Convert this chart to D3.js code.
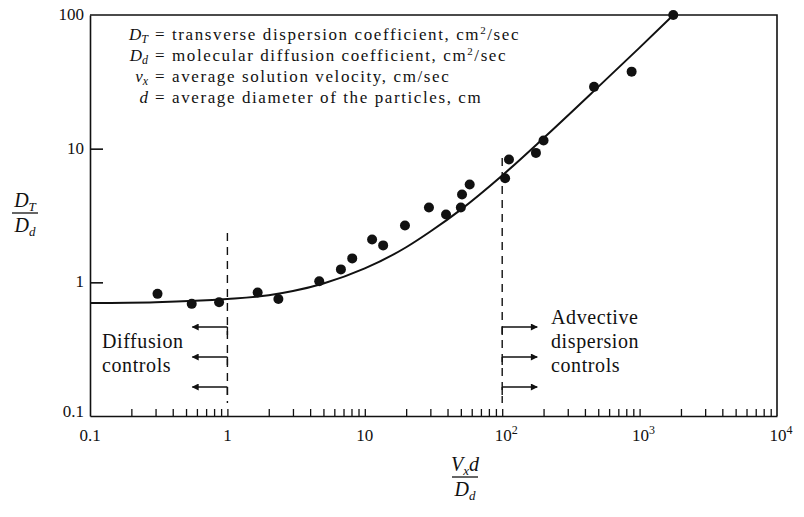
<!DOCTYPE html>
<html>
<head>
<meta charset="utf-8">
<script src="https://cdn.jsdelivr.net/npm/d3@7"></script>
<style>
  body { margin: 0; background: #fff; }
  svg, svg text { font-family: "Liberation Serif", "Times New Roman", Times, serif; }
  svg { display: block; }
</style>
</head>
<body>
<svg id="chart" width="804" height="517"></svg>
<script>
// Measured points: Peclet number (Vx d / Dd) against DT / Dd.
const pecletValues = [0.31, 0.55, 0.87, 1.66, 2.35, 4.66, 6.7, 8.1, 11.3, 13.6, 19.6, 29.3,
    39, 50, 51, 58, 105, 112, 176, 200, 466, 875, 1758];
const ratioValues = [0.82, 0.69, 0.71, 0.84, 0.75, 1.02, 1.25, 1.51, 2.09, 1.89, 2.66, 3.63,
    3.22, 3.63, 4.54, 5.4, 6.0, 8.3, 9.3, 11.5, 29, 37.7, 100];

// Fitted curve.
const curveX = [0.1, 0.3, 1, 2, 3, 5, 10, 20, 30, 50, 100, 200, 500, 1000, 1760];
const curveY = [0.70, 0.71, 0.75, 0.80, 0.86, 0.98, 1.27, 1.83, 2.4, 3.5, 6.3, 12, 29, 57, 100];

// Axis ticks.
const xMajorTicks = [0.1, 1, 10, 100, 1000, 10000];
const xTickExponents = ["0.1", "1", "10", "2", "3", "4"];
const yMajorTicks = [0.1, 1, 10, 100];
const yTickLabels = ["0.1", "1", "10", "100"];

// Regime boundaries and legend lines.
const boundaries = [1, 100];
const legendSymbols = ["D", "D", "v", "d"];
const legendSubs = ["T", "d", "x", ""];
const legendTexts = ["transverse dispersion coefficient, cm", "molecular diffusion coefficient, cm",
    "average solution velocity, cm/sec", "average diameter of the particles, cm"];
const legendSups = ["2", "2", "", ""];
const legendTails = ["/sec", "/sec", "", ""];

let svg = d3.select("#chart");
const plotLeft = 90, plotRight = 777, plotTop = 15, plotBottom = 416;

let x = d3.scaleLog().domain([0.1, 1e4]).range([plotLeft, plotRight]);
let y = d3.scaleLog().domain([0.1, 100]).range([plotBottom, plotTop]);

svg.append("defs").append("marker")
    .attr("id", "head")
    .attr("viewBox", "0 0 10 10")
    .attr("refX", 9).attr("refY", 5)
    .attr("markerWidth", 11).attr("markerHeight", 7)
    .attr("markerUnits", "userSpaceOnUse")
    .attr("orient", "auto")
    .append("path").attr("d", "M0,0L10,5L0,10Z").attr("fill", "#111");

// Minor ticks on x axis (every 1..9 of each decade).
let minorTicks = [];
for (let e = -1; e < 4; e++) {
    for (let m = 2; m <= 10; m++) minorTicks.push(m * Math.pow(10, e));
}
minorTicks = minorTicks.filter(v => v < 1e4);

let xAxis = svg.append("g")
    .attr("transform", `translate(0,${plotBottom})`)
    .call(d3.axisBottom(x).tickValues(minorTicks).tickSize(-7).tickSizeOuter(0).tickFormat(""));
xAxis.select(".domain").attr("stroke", "#111").attr("stroke-width", 1.6);
xAxis.selectAll(".tick line").attr("stroke", "#111").attr("stroke-width", 1.3);

let yAxis = svg.append("g")
    .attr("transform", `translate(${plotLeft},0)`)
    .call(d3.axisLeft(y).tickValues([1, 10]).tickSize(-13).tickSizeOuter(0).tickFormat(""));
yAxis.select(".domain").attr("stroke", "#111").attr("stroke-width", 1.6);
yAxis.selectAll(".tick line").attr("stroke", "#111").attr("stroke-width", 1.6);

// Top and right frame.
svg.append("path")
    .attr("d", `M${plotLeft},${plotTop}H${plotRight}V${plotBottom}`)
    .attr("fill", "none").attr("stroke", "#111").attr("stroke-width", 1.6);

// Tick labels.
let xl = svg.append("g").attr("font-size", 17).attr("fill", "#111").attr("text-anchor", "middle");
xMajorTicks.forEach((v, i) => {
    let t = xl.append("text").attr("x", x(v) + (i >= 3 ? 4 : 0)).attr("y", 441);
    if (i < 3) {
        t.text(xTickExponents[i]);
    } else {
        t.append("tspan").text("10");
        t.append("tspan").attr("dy", -7).attr("font-size", 12).text(xTickExponents[i]);
    }
});
let yl = svg.append("g").attr("font-size", 17).attr("fill", "#111").attr("text-anchor", "end");
yMajorTicks.forEach((v, i) => {
    yl.append("text").attr("x", 84).attr("y", y(v) + (i === 0 ? 1 : 5)).text(yTickLabels[i]);
});

// Dashed regime boundaries with arrows.
const dashTop = [233, 158];
boundaries.forEach((b, i) => {
    svg.append("line")
        .attr("x1", x(b)).attr("x2", x(b))
        .attr("y1", dashTop[i]).attr("y2", 403)
        .attr("stroke", "#111").attr("stroke-width", 1.4)
        .attr("stroke-dasharray", "8,6");
    [327, 357, 387].forEach((ay, j) => {
        let dir = i === 0 ? -1 : 1;
        svg.append("line")
            .attr("x1", x(b)).attr("x2", x(b) + dir * 35)
            .attr("y1", ay).attr("y2", ay)
            .attr("stroke", "#111").attr("stroke-width", 1.4)
            .attr("marker-end", "url(#head)");
        svg.append("line")
            .attr("x1", x(b)).attr("x2", x(b))
            .attr("y1", ay).attr("y2", ay + 8)
            .attr("stroke", "#111").attr("stroke-width", 1.4);
    });
});

// Region annotations.
let ann = svg.append("g").attr("font-size", 20).attr("fill", "#111").attr("letter-spacing", 0.6);
ann.append("text").attr("x", 102).attr("y", 348).text("Diffusion");
ann.append("text").attr("x", 102).attr("y", 372).text("controls");
ann.append("text").attr("x", 551).attr("y", 324).text("Advective");
ann.append("text").attr("x", 551).attr("y", 348).text("dispersion");
ann.append("text").attr("x", 551).attr("y", 372).text("controls");

// Fitted curve.
let line = d3.line()
    .x((d, i) => x(curveX[i]))
    .y((d, i) => y(curveY[i]))
    .curve(d3.curveMonotoneX);
svg.append("path")
    .attr("d", line(curveX))
    .attr("fill", "none").attr("stroke", "#111").attr("stroke-width", 2);

// Data points.
svg.append("g").selectAll("circle")
    .data(pecletValues)
    .enter().append("circle")
    .attr("cx", d => x(d))
    .attr("cy", (d, i) => y(ratioValues[i]))
    .attr("r", 5)
    .attr("fill", "#111");

// Legend of symbols: symbol right-aligned before the "=" column.
let leg = svg.append("g").attr("font-size", 17).attr("fill", "#111");
legendSymbols.forEach((s, i) => {
    let ty = 40 + i * 21;
    let sym = leg.append("text").attr("x", 148).attr("y", ty).attr("text-anchor", "end");
    sym.append("tspan").attr("font-style", "italic").text(s);
    if (legendSubs[i]) {
        sym.append("tspan").attr("font-style", "italic").attr("font-size", 12).attr("dy", 3).text(legendSubs[i]);
    }
    let t = leg.append("text").attr("x", 155).attr("y", ty).attr("letter-spacing", 1.6);
    t.append("tspan").text("= " + legendTexts[i]);
    if (legendSups[i]) {
        t.append("tspan").attr("font-size", 11).attr("dy", -6).text(legendSups[i]);
        t.append("tspan").attr("dy", 6).text(legendTails[i]);
    }
});

// Axis titles as fractions.
function fraction(cx, cy, num, numSub, numTail, den, denSub) {
    let g = svg.append("g").attr("font-size", 20).attr("fill", "#111").attr("font-style", "italic");
    let n = g.append("text").attr("x", cx).attr("y", cy - 6).attr("text-anchor", "middle");
    n.append("tspan").text(num);
    n.append("tspan").attr("font-size", 13).attr("dy", 4).text(numSub);
    if (numTail) n.append("tspan").attr("dy", -4).text(numTail);
    g.append("line").attr("x1", cx - 13).attr("x2", cx + 13)
        .attr("y1", cy).attr("y2", cy)
        .attr("stroke", "#111").attr("stroke-width", 1.3);
    let dd = g.append("text").attr("x", cx).attr("y", cy + 19).attr("text-anchor", "middle");
    dd.append("tspan").text(den);
    dd.append("tspan").attr("font-size", 13).attr("dy", 4).text(denSub);
}
fraction(25, 213, "D", "T", "", "D", "d");
fraction(465, 477, "V", "x", "d", "D", "d");
</script>
</body>
</html>
